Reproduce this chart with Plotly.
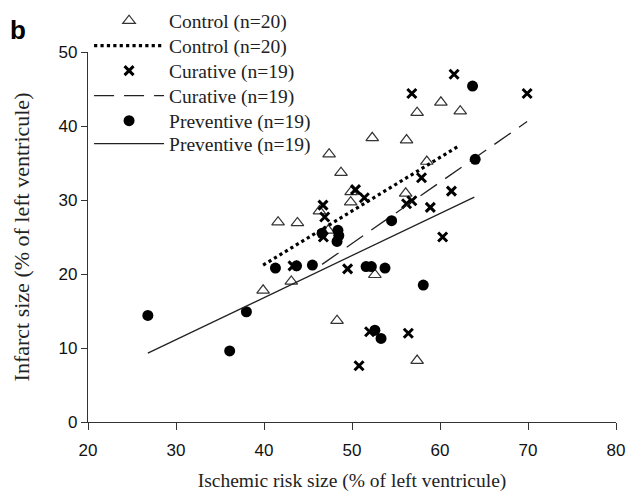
import plotly.graph_objects as go

# Control (n=20)
control_x = [39.9, 43.1, 41.6, 43.8, 46.3, 47.3, 47.4, 48.75, 49.9, 49.85,
             48.3, 52.6, 57.4, 56.1, 58.5, 56.2, 57.4, 60.1, 62.3, 52.3]
control_y = [17.8, 19.0, 27.0, 26.9, 28.5, 25.9, 36.2, 33.7, 31.1, 29.7,
             13.7, 19.9, 8.3, 30.9, 35.2, 38.1, 41.8, 43.2, 42.0, 38.4]
# Curative (n=19)
curative_x = [43.3, 46.7, 46.9, 46.75, 50.4, 51.4, 49.5, 52.0, 50.8, 56.4,
              56.2, 56.8, 57.9, 58.9, 61.3, 60.3, 56.8, 61.6, 69.9]
curative_y = [21.1, 29.3, 27.7, 25.0, 31.4, 30.3, 20.7, 12.2, 7.6, 12.0,
              29.5, 29.9, 33.0, 29.0, 31.2, 25.0, 44.4, 47.0, 44.4]
# Preventive (n=19)
preventive_x = [26.8, 36.1, 38.0, 41.3, 43.7, 45.5, 46.6, 48.4, 48.5, 48.3,
                51.6, 52.2, 53.75, 54.5, 52.6, 53.3, 58.1, 64.0, 63.7]
preventive_y = [14.4, 9.6, 14.9, 20.8, 21.1, 21.2, 25.5, 25.9, 25.2, 24.4,
                21.0, 21.0, 20.8, 27.2, 12.4, 11.3, 18.5, 35.5, 45.4]

# Regression lines (end points)
control_fit_x = [39.9, 62.0]
control_fit_y = [21.2, 37.2]
curative_fit_x = [46.6, 69.9]
curative_fit_y = [21.3, 40.6]
preventive_fit_x = [26.8, 63.9]
preventive_fit_y = [9.3, 30.4]

x_ticks = [20, 30, 40, 50, 60, 70, 80]
y_ticks = [0, 10, 20, 30, 40, 50]

serif = "Liberation Serif, Times New Roman, serif"
sans = "Liberation Sans, Arial, sans-serif"

fig = go.Figure()
fig.add_trace(go.Scatter(x=control_x, y=control_y, mode="markers", name="Control (n=20)",
                         legend="legend",
                         marker=dict(symbol="triangle-up-open", size=11, color="#333333",
                                     line=dict(width=1.2, color="#333333"))))
fig.add_trace(go.Scatter(x=control_fit_x, y=control_fit_y, mode="lines", name="Control (n=20)",
                         legend="legend2",
                         line=dict(color="black", width=3.2, dash="dot")))
fig.add_trace(go.Scatter(x=curative_x, y=curative_y, mode="markers", name="Curative (n=19)",
                         legend="legend3",
                         marker=dict(symbol="x-thin-open", size=9, color="black",
                                     line=dict(width=3, color="black"))))
fig.add_trace(go.Scatter(x=curative_fit_x, y=curative_fit_y, mode="lines", name="Curative (n=19)",
                         legend="legend4",
                         line=dict(color="#222222", width=1.3, dash="20px,10px")))
fig.add_trace(go.Scatter(x=preventive_x, y=preventive_y, mode="markers", name="Preventive (n=19)",
                         legend="legend5",
                         marker=dict(symbol="circle", size=11, color="black")))
fig.add_trace(go.Scatter(x=preventive_fit_x, y=preventive_fit_y, mode="lines", name="Preventive (n=19)",
                         legend="legend6",
                         line=dict(color="#222222", width=1.3)))

PLOT_TOP, PLOT_H = 52, 370
row_px = [21, 46, 71, 96, 121, 144]


def legend_at(py):
    return dict(x=0.002, y=1 + (PLOT_TOP - py) / PLOT_H, xanchor="left", yanchor="middle",
                font=dict(family=serif, size=19.5, color="#222222"),
                bgcolor="rgba(0,0,0,0)", itemwidth=70)


fig.update_layout(
    width=643, height=497,
    margin=dict(l=88, r=27, t=PLOT_TOP, b=75, autoexpand=False),
    plot_bgcolor="white", paper_bgcolor="white",
    showlegend=True,
    legend=legend_at(row_px[0]),
    legend2=legend_at(row_px[1]),
    legend3=legend_at(row_px[2]),
    legend4=legend_at(row_px[3]),
    legend5=legend_at(row_px[4]),
    legend6=legend_at(row_px[5]),
    xaxis=dict(range=[20, 80], tickvals=x_ticks, ticktext=[str(v) for v in x_ticks],
               showgrid=False, zeroline=False, showline=True, linecolor="#333333", linewidth=1.2,
               ticks="outside", ticklen=7, tickcolor="#333333", ticklabelstandoff=5,
               tickfont=dict(family=sans, size=17, color="#111111"),
               title=dict(text="Ischemic risk size (% of left ventricule)",
                          font=dict(family=serif, size=19.5, color="#222222"), standoff=14)),
    yaxis=dict(range=[0, 50], tickvals=y_ticks, ticktext=[str(v) for v in y_ticks],
               showgrid=False, zeroline=False, showline=True, linecolor="#333333", linewidth=1.2,
               ticks="outside", ticklen=6, tickcolor="#333333",
               tickfont=dict(family=sans, size=17, color="#111111"),
               title=dict(text="Infarct size (% of left ventricule)",
                          font=dict(family=serif, size=22, color="#222222"), standoff=22)),
    annotations=[dict(text="<b>b</b>", x=(8 - 88) / 528, y=1 + 22 / 370,
                      xref="paper", yref="paper", xanchor="left", yanchor="middle",
                      showarrow=False, font=dict(family=sans, size=26, color="black"))],
)
fig.write_html("out.html", config={"displayModeBar": False},
               post_script="document.body.style.margin='0';")
